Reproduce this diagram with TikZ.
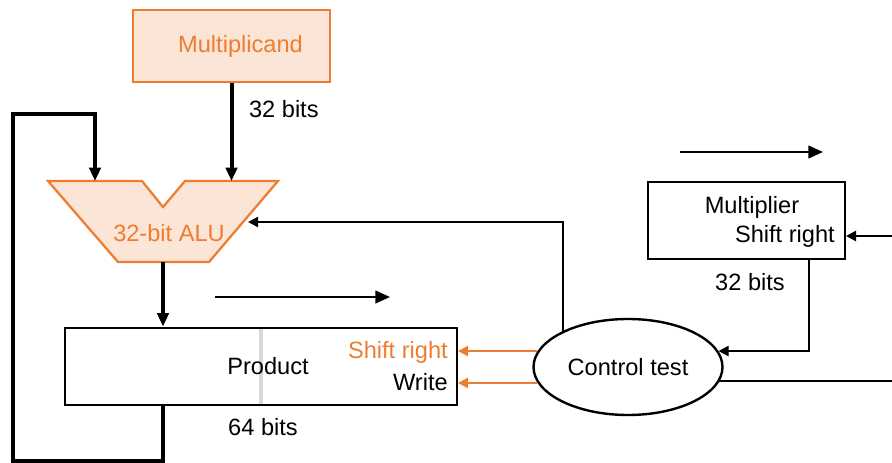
\documentclass[tikz,border=0pt]{standalone}
\usepackage{fontspec}
\setmainfont{Liberation Sans}
\usetikzlibrary{shapes.geometric,arrows.meta,positioning,calc,backgrounds}
\definecolor{aluorange}{RGB}{237, 125, 49}
\definecolor{alufill}{RGB}{251, 229, 214}
\definecolor{dividergray}{RGB}{217, 217, 217}

\begin{document}
\begin{tikzpicture}[
    x=0.75pt, y=-0.75pt,
    every node/.style={align=center, inner sep=0pt, font=\fontsize{17.7}{21}\selectfont},
    register/.style={rectangle, draw=black, line width=1.5pt},
    operand/.style={rectangle, draw=aluorange, fill=alufill, line width=1.5pt, minimum width=147.75pt, minimum height=54pt, text=aluorange},
    control/.style={ellipse, draw=black, line width=1.8pt, minimum width=141.75pt, minimum height=72pt},
    bus/.style={line width=3pt, ->, >={Triangle[length=10pt,width=8.5pt]}},
    arrow/.style={line width=1.6pt, ->, >={Triangle[length=7.5pt,width=7.5pt]}},
    signal/.style={arrow, draw=aluorange},
    wire/.style={line width=1.5pt},
    direction/.style={line width=1.6pt, ->, >={Triangle[length=11pt,width=9.5pt]}}
]
\useasboundingbox (0,0) rectangle (892,463);

% Multiplicand register
\node[operand] (mcand) at (231.5,46) {\hspace*{13.5pt}Multiplicand};
\node[anchor=west, xshift=13pt, yshift=-19.5pt] (mcandbits) at (mcand.south) {32 bits};

% 32-bit ALU outline
\draw[draw=aluorange, fill=alufill, line width=1.7pt]
    (48,181) -- (142,181) -- (163,207) -- (185,181) -- (278,181) -- (209,262) -- (118,262) -- cycle;
\node[text=aluorange] (alu) at (169,233) {32-bit ALU};
\coordinate (alu-a) at (95,181);
\coordinate (alu-b) at (231.5,181);
\coordinate (alu-out) at (163,262);
\coordinate (alu-ctl) at (248,222);

% Product register
\node[register, minimum width=294pt, minimum height=57.75pt] (prod) at (261,366) {\hspace*{10.5pt}Product};
\begin{scope}[on background layer]
\draw[dividergray, line width=2.6pt, shorten >=0.8pt, shorten <=0.8pt] (prod.north) -- (prod.south);
\end{scope}
\node[anchor=east, text=aluorange] (prodshift) at (448,352) {Shift right};
\node[anchor=east] (prodwrite) at (448,382) {Write};
\node (prodbits) at (263,427) {64 bits};

% Multiplier register
\node[register, minimum width=147.75pt, minimum height=57.75pt] (mplier) at (746.5,220.5) {};
\node (mplierlbl) at (752,207) {Multiplier};
\node[anchor=east] (mpliershift) at (835,236) {Shift right};
\node (mplierbits) at (750,282) {32 bits};

% Control
\node[control] (ctrl) at (628,367) {Control test};

% Data paths
\draw[bus] (mcand.south) -- (alu-b);
\draw[bus] (alu-out) -- (alu-out |- prod.north);
\coordinate (loop-bl) at (13,460.5);
\coordinate (loop-tl) at (13,114);
\draw[bus] (prod.south -| alu-out) |- (loop-bl) -- (loop-tl) -| (alu-a);

% Control lines
\draw[arrow] (ctrl.151) |- (alu-ctl);
\draw[signal] (ctrl.170) -- (ctrl.170 -| prod.east);
\draw[signal] (ctrl.190) -- (ctrl.190 -| prod.east);
\draw[arrow] ([xshift=46.9pt]mplier.south) |- (ctrl.10);
\coordinate (ctrl-out) at (892,381);
\draw[wire] (ctrl.-9) -- (ctrl.-9 -| ctrl-out);
\coordinate (mpl-in) at (892,236);
\draw[arrow] (mpl-in) -- (mpl-in -| mplier.east);

% Shift direction
\coordinate (prod-dir-a) at (215,297);
\coordinate (prod-dir-b) at (390,297);
\draw[direction] (prod-dir-a) -- (prod-dir-b);
\coordinate (mpl-dir-a) at (680,152);
\coordinate (mpl-dir-b) at (823,152);
\draw[direction] (mpl-dir-a) -- (mpl-dir-b);

\end{tikzpicture}
\end{document}
